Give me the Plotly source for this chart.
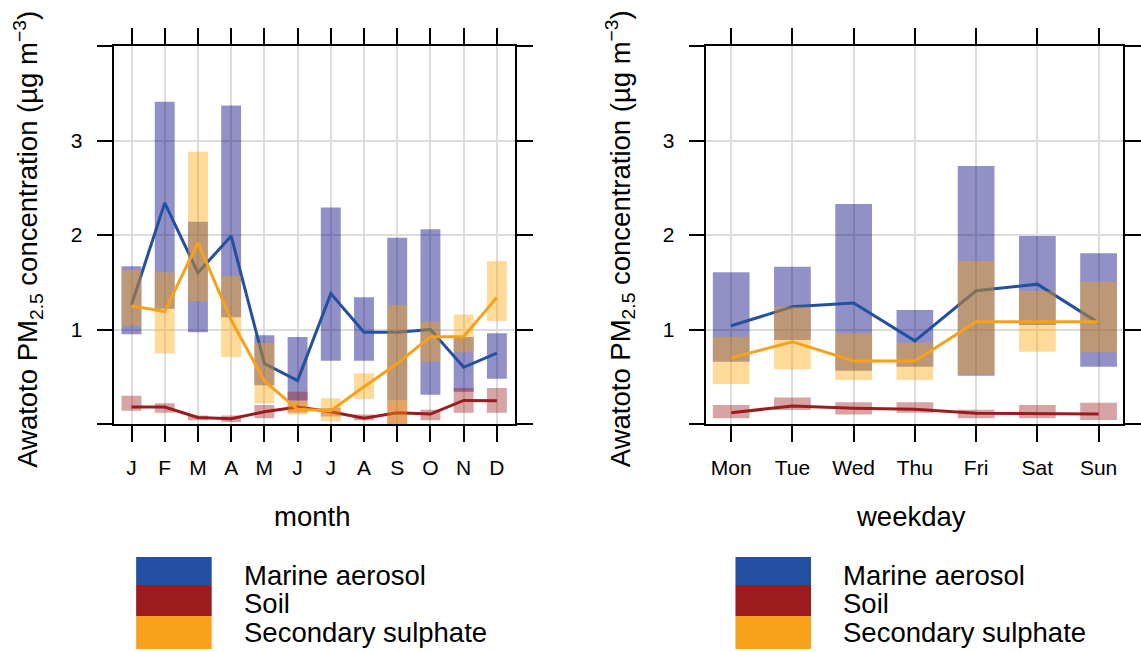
import plotly.graph_objects as go

# ---- data -------------------------------------------------------------
months = ["J", "F", "M", "A", "M", "J", "J", "A", "S", "O", "N", "D"]
weekdays = ["Mon", "Tue", "Wed", "Thu", "Fri", "Sat", "Sun"]

marine_month_mean = [1.26, 2.34, 1.60, 1.99, 0.64, 0.46, 1.38, 0.97, 0.97, 1.00, 0.60, 0.75]
marine_month_lo = [0.95, 1.22, 0.97, 1.13, 0.41, 0.25, 0.67, 0.67, 0.25, 0.31, 0.34, 0.48]
marine_month_hi = [1.67, 3.41, 2.14, 3.37, 0.94, 0.92, 2.29, 1.34, 1.97, 2.06, 0.92, 0.96]

soil_month_mean = [0.18, 0.18, 0.07, 0.055, 0.13, 0.18, 0.13, 0.06, 0.12, 0.105, 0.25, 0.245]
soil_month_lo = [0.14, 0.12, 0.04, 0.02, 0.06, 0.12, 0.08, 0.04, 0.00, 0.04, 0.12, 0.12]
soil_month_hi = [0.30, 0.22, 0.09, 0.09, 0.20, 0.34, 0.17, 0.10, 0.25, 0.15, 0.38, 0.38]

sulph_month_mean = [1.25, 1.19, 1.92, 1.10, 0.455, 0.155, 0.14, 0.395, 0.64, 0.924, 0.924, 1.34]
sulph_month_lo = [1.04, 0.75, 1.30, 0.71, 0.22, 0.10, 0.03, 0.265, 0.00, 0.66, 0.758, 1.09]
sulph_month_hi = [1.63, 1.605, 2.88, 1.566, 0.86, 0.24, 0.272, 0.536, 1.26, 1.083, 1.16, 1.725]

marine_wd_mean = [1.04, 1.24, 1.28, 0.88, 1.41, 1.48, 1.07]
marine_wd_lo = [0.66, 0.89, 0.564, 0.606, 0.511, 1.048, 0.606]
marine_wd_hi = [1.605, 1.665, 2.328, 1.206, 2.73, 1.99, 1.806]

soil_wd_mean = [0.12, 0.19, 0.166, 0.155, 0.113, 0.113, 0.106]
soil_wd_lo = [0.06, 0.148, 0.10, 0.12, 0.06, 0.06, 0.042]
soil_wd_hi = [0.20, 0.28, 0.23, 0.23, 0.15, 0.20, 0.225]

sulph_wd_mean = [0.70, 0.871, 0.667, 0.667, 1.083, 1.083, 1.083]
sulph_wd_lo = [0.423, 0.58, 0.466, 0.466, 0.52, 0.765, 0.758]
sulph_wd_hi = [0.924, 1.24, 0.96, 0.86, 1.725, 1.407, 1.506]

series_names = ["Marine aerosol", "Soil", "Secondary sulphate"]
y_ticks = [1, 2, 3]
y_tick_text = ["1", "2", "3"]
y_edge_ticks = [0, 4]

# ---- styling ----------------------------------------------------------
W, H = 1141, 652
FONT = "Liberation Sans, Arial, sans-serif"
LINE_COLS = ["#2350A0", "#9B1B1E", "#F7A11A"]
SHADE_COLS = ["rgba(0,0,125,0.43)", "rgba(155,27,30,0.40)", "rgba(255,162,0,0.40)"]
BAR_W = 0.6
BIG = 27.5


def boxes(xs, lo, hi, w):
    """Closed rectangles (one per category) separated by gaps."""
    px, py = [], []
    for x, a, b in zip(xs, lo, hi):
        px += [x - w / 2, x + w / 2, x + w / 2, x - w / 2, x - w / 2, None]
        py += [a, a, b, b, a, None]
    return px, py


fig = go.Figure()

panels = [
    ("x", "y", list(range(1, 13)),
     [(marine_month_mean, marine_month_lo, marine_month_hi),
      (soil_month_mean, soil_month_lo, soil_month_hi),
      (sulph_month_mean, sulph_month_lo, sulph_month_hi)]),
    ("x2", "y2", list(range(1, 8)),
     [(marine_wd_mean, marine_wd_lo, marine_wd_hi),
      (soil_wd_mean, soil_wd_lo, soil_wd_hi),
      (sulph_wd_mean, sulph_wd_lo, sulph_wd_hi)]),
]

for xa, ya, xs, groups in panels:
    for i, (mean, lo, hi) in enumerate(groups):
        bx, by = boxes(xs, lo, hi, BAR_W)
        fig.add_trace(go.Scatter(
            x=bx, y=by, xaxis=xa, yaxis=ya, mode="none", fill="toself",
            fillcolor=SHADE_COLS[i], hoverinfo="skip", showlegend=False))
        fig.add_trace(go.Scatter(
            x=xs, y=mean, xaxis=xa, yaxis=ya, mode="lines",
            line=dict(color=LINE_COLS[i], width=3),
            name=series_names[i], showlegend=False))

axis_common = dict(
    showline=True, linecolor="black", linewidth=1.5, mirror="ticks",
    ticks="outside", ticklen=16, tickwidth=1.5, tickcolor="black",
    showgrid=True, gridcolor="#dcdcdc", gridwidth=1.5, zeroline=False,
    tickfont=dict(family=FONT, size=21, color="black"),
    fixedrange=True,
)
# unlabelled ticks at the ends of the value axis
edge_minor = dict(tickmode="array", tickvals=y_edge_ticks, ticks="outside",
                  ticklen=16, tickwidth=1.5, tickcolor="black", showgrid=False)

y_dom = [1 - 424 / H, 1 - 46 / H]

fig.update_layout(
    width=W, height=H,
    margin=dict(l=0, r=0, t=0, b=0, pad=0),
    paper_bgcolor="white", plot_bgcolor="white",
    font=dict(family=FONT, color="black"),
    showlegend=False,
    xaxis=dict(axis_common, domain=[115 / W, 518 / W], range=[0.482, 12.54],
               tickvals=list(range(1, 13)), ticktext=months, ticklabelstandoff=8),
    yaxis=dict(axis_common, domain=y_dom, range=[0, 4], tickvals=y_ticks,
               ticktext=y_tick_text, ticklabelstandoff=10, minor=edge_minor),
    xaxis2=dict(axis_common, domain=[710.7 / W, 1130 / W], range=[0.594, 7.40],
                tickvals=list(range(1, 8)), ticktext=weekdays, ticklabelstandoff=8,
                anchor="y2"),
    yaxis2=dict(axis_common, domain=y_dom, range=[0, 4], tickvals=y_ticks,
                ticktext=y_tick_text, ticklabelstandoff=10, anchor="x2",
                minor=edge_minor),
)

y_title = "Awatoto PM<sub>2.5</sub> concentration (µg m<sup>−3</sup>)"
ann = []
for cx in (28, 624):
    ann.append(dict(text=y_title, x=cx / W, y=1 - 239 / H, xref="paper", yref="paper",
                    xanchor="center", yanchor="middle", textangle=-90, showarrow=False,
                    font=dict(family=FONT, size=BIG, color="black")))
for txt, cx in (("month", 314), ("weekday", 917)):
    ann.append(dict(text=txt, x=cx / W, y=1 - 516 / H, xref="paper", yref="paper",
                    xanchor="center", yanchor="middle", showarrow=False,
                    font=dict(family=FONT, size=BIG, color="black")))

# legend blocks under each panel
shapes = []
key_rows = [(557, 585), (585, 616), (616, 649)]
text_rows = [575, 603, 632]
for kx0, kx1, tx in ((137, 213, 243), (740, 816, 846)):
    for i, (ya0, ya1) in enumerate(key_rows):
        shapes.append(dict(type="rect", xref="paper", yref="paper",
                           x0=kx0 / W, x1=kx1 / W, y0=1 - ya1 / H, y1=1 - ya0 / H,
                           fillcolor=LINE_COLS[i], line=dict(width=0), layer="above"))
        ann.append(dict(text=series_names[i], x=tx / W, y=1 - text_rows[i] / H,
                        xref="paper", yref="paper", xanchor="left", yanchor="middle",
                        showarrow=False, font=dict(family=FONT, size=BIG, color="black")))

fig.update_layout(annotations=ann, shapes=shapes)

fig.write_html("out.html")
